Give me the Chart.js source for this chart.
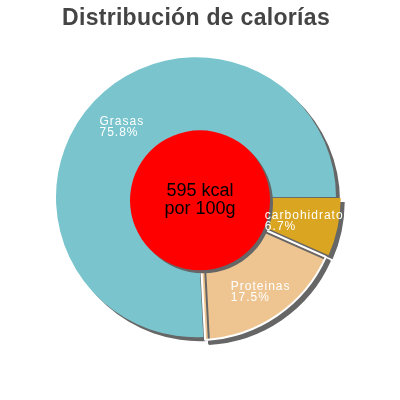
<!DOCTYPE html>
<html>

<head>
  <meta charset="UTF-8" />
  <title>Distribución de calorías</title>
  <script src="https://cdn.jsdelivr.net/npm/chart.js"></script>
  <style>
    html, body { margin: 0; padding: 0; background: #fff; }
    #wrap { width: 400px; height: 400px; }
  </style>
</head>

<body>
  <div id="wrap"><canvas id="pie"></canvas></div>
  <script>
    // data (clockwise order from bottom)
    const labels = ["Grasas", "carbohidratos", "Proteinas"];
    const values = [75.8, 6.7, 17.5];
    const colors = ["#7AC5CD", "#DAA520", "#EEC591"];
    const offsets = [0, 12, 12];
    const borders = [0, 0, 2];
    const centerLines = ["595 kcal", "por 100g"];

    const FONT = "'Liberation Sans', Arial, sans-serif";

    // drop shadow under slices
    const shadowPlugin = {
      id: "shadow",
      beforeDraw(chart) {
        chart.ctx.letterSpacing = "0.3px"; // title spacing
      },
      beforeDatasetsDraw(chart) {
        const ctx = chart.ctx;
        ctx.letterSpacing = "0px";
        ctx.save();
        ctx.shadowColor = "#666666";
        ctx.shadowOffsetX = 4;
        ctx.shadowOffsetY = 4;
        ctx.shadowBlur = 0;
      },
      afterDatasetsDraw(chart) {
        chart.ctx.restore();
      }
    };

    // red disc in the middle, then labels inside slices
    const labelPlugin = {
      id: "sliceLabels",
      afterDatasetsDraw(chart) {
        const ctx = chart.ctx;
        const meta = chart.getDatasetMeta(0);
        const ds = chart.data.datasets[0];

        const a = meta.data[0];
        const dx = a.x + 4, dy = a.y + 3;
        ctx.save();
        ctx.shadowColor = "#666666";
        ctx.shadowOffsetX = 3;
        ctx.shadowOffsetY = 3;
        ctx.beginPath();
        ctx.arc(dx, dy, a.outerRadius * 0.5, 0, Math.PI * 2);
        ctx.fillStyle = "#ff0000";
        ctx.fill();
        ctx.restore();

        ctx.save();
        ctx.font = "18px " + FONT;
        ctx.fillStyle = "#000000";
        ctx.textAlign = "center";
        ctx.textBaseline = "middle";
        ctx.fillText(centerLines[0], dx, dy - 9);
        ctx.fillText(centerLines[1], dx, dy + 9);
        ctx.restore();

        ctx.save();
        ctx.font = "12px " + FONT;
        ctx.letterSpacing = "1px";
        ctx.fillStyle = "#ffffff";
        ctx.textAlign = "left";
        ctx.textBaseline = "middle";
        meta.data.forEach((arc, i) => {
          const p = arc.getProps(["x", "y", "startAngle", "endAngle", "outerRadius"], true);
          const mid = (p.startAngle + p.endAngle) / 2;
          const r = (ds.offset[i] || 0) + p.outerRadius * 0.73;
          const cx = p.x + Math.cos(mid) * r;
          const cy = p.y + Math.sin(mid) * r;
          const l1 = chart.data.labels[i];
          const l2 = values[i].toFixed(1) + "%";
          const w = Math.max(ctx.measureText(l1).width, ctx.measureText(l2).width);
          ctx.fillText(l1, cx - w / 2, cy - 5);
          ctx.fillText(l2, cx - w / 2, cy + 6);
        });
        ctx.restore();
      }
    };

    new Chart(document.getElementById("pie"), {
      type: "pie",
      data: {
        labels: labels,
        datasets: [{
          data: values,
          backgroundColor: colors,
          borderColor: "#ffffff",
          borderWidth: borders,
          offset: offsets
        }]
      },
      options: {
        responsive: true,
        maintainAspectRatio: false,
        animation: false,
        rotation: 177,
        radius: 140,
        layout: { padding: { left: 0, right: 8, top: 0, bottom: 38 } },
        plugins: {
          legend: { display: false },
          tooltip: { enabled: false },
          title: {
            display: true,
            text: "Distribución de calorías",
            color: "#444444",
            font: { family: FONT, size: 23, weight: "bold" },
            padding: { top: 5, bottom: 0 }
          }
        }
      },
      plugins: [shadowPlugin, labelPlugin]
    });
  </script>
</body>

</html>
